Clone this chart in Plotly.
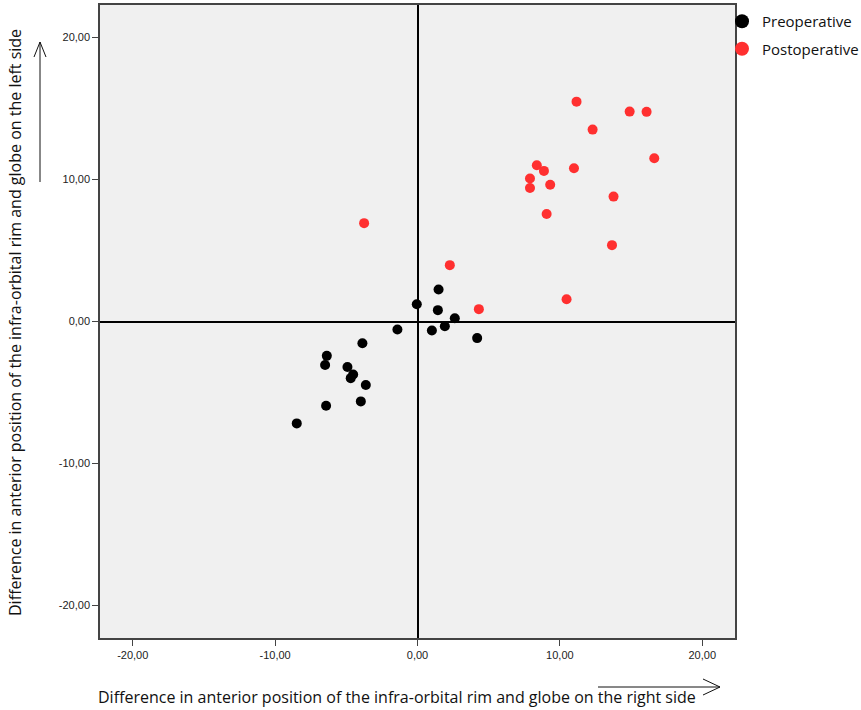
import plotly.graph_objects as go

# Data
pre_x = [1.48, -0.05, 1.43, 2.62, 1.92, 1.01, -1.41, 4.19, -3.87, -6.37, -6.49, -4.92, -4.52, -4.69, -3.63, -6.42, -3.98, -8.48]
pre_y = [2.25, 1.22, 0.80, 0.23, -0.33, -0.63, -0.56, -1.17, -1.53, -2.42, -3.07, -3.21, -3.73, -3.99, -4.48, -5.94, -5.63, -7.18]

post_x = [-3.75, 2.27, 4.31, 8.38, 7.90, 7.90, 11.17, 14.90, 16.09, 12.30, 16.63, 8.88, 9.32, 10.99, 13.77, 9.07, 13.66, 10.47]
post_y = [6.93, 3.97, 0.87, 11.01, 10.07, 9.41, 15.49, 14.79, 14.77, 13.52, 11.50, 10.61, 9.63, 10.80, 8.80, 7.58, 5.38, 1.57]

tick_vals = [-20, -10, 0, 10, 20]
tick_labels = ["-20,00", "-10,00", "0,00", "10,00", "20,00"]

series_names = ["Preoperative", "Postoperative"]
series_colors = ["#000000", "#ff3030"]

x_title = "Difference in anterior position of the infra-orbital rim and globe on the right side"
y_title = "Difference in anterior position of the infra-orbital rim and globe on the left side"

W, H = 861, 710
ML, MR, MT, MB = 100, 126, 5, 72
PW, PH = W - ML - MR, H - MT - MB
FONT = "Open Sans"

def px(x):
    return (x - ML) / PW

def py(y):
    return (H - MB - y) / PH

fig = go.Figure()
for xs, ys, name, col in [(pre_x, pre_y, series_names[0], series_colors[0]),
                          (post_x, post_y, series_names[1], series_colors[1])]:
    fig.add_trace(go.Scatter(x=xs, y=ys, mode="markers", name=name, showlegend=False,
                             marker=dict(size=10, color=col, line=dict(width=0))))
    fig.add_trace(go.Scatter(x=[None], y=[None], mode="markers", name=name, showlegend=True,
                             legendgroup=name,
                             marker=dict(size=14, color=col, line=dict(width=0))))

axis_common = dict(
    tickmode="array", tickvals=tick_vals, ticktext=tick_labels,
    ticks="outside", ticklen=6, tickcolor="#444", tickwidth=1,
    showgrid=False, zeroline=True, zerolinecolor="#000", zerolinewidth=2,
    showline=True, linecolor="#444", linewidth=1.5, mirror=True,
    tickfont=dict(family="Liberation Sans, Arial", size=11, color="#222"),
    range=[-22.3, 22.3], fixedrange=True,
)

fig.update_layout(
    width=W, height=H,
    margin=dict(l=ML, r=MR, t=MT, b=MB, autoexpand=False),
    paper_bgcolor="white", plot_bgcolor="#f0f0f0",
    xaxis=dict(**axis_common),
    yaxis=dict(**axis_common),
    legend=dict(x=px(722), y=py(5), xanchor="left", yanchor="top",
                bgcolor="rgba(0,0,0,0)", itemsizing="trace",
                font=dict(family=FONT, size=15, color="#111"),
                tracegroupgap=5),
    annotations=[
        dict(text=x_title, xref="paper", yref="paper", x=px(397), y=py(697),
             showarrow=False, font=dict(family=FONT, size=16, color="#111"),
             xanchor="center", yanchor="middle"),
        dict(text=y_title, xref="paper", yref="paper", x=px(15), y=py(323),
             showarrow=False, textangle=-90, font=dict(family=FONT, size=16, color="#111"),
             xanchor="center", yanchor="middle"),
    ],
)

line_style = dict(color="#111", width=1)
shapes = [
    # y arrow
    dict(type="line", xref="paper", yref="paper", x0=px(40), y0=py(182), x1=px(40), y1=py(42), line=line_style),
    dict(type="line", xref="paper", yref="paper", x0=px(40), y0=py(42), x1=px(34), y1=py(57), line=line_style),
    dict(type="line", xref="paper", yref="paper", x0=px(40), y0=py(42), x1=px(46), y1=py(57), line=line_style),
    # x arrow
    dict(type="line", xref="paper", yref="paper", x0=px(598), y0=py(687), x1=px(720), y1=py(687), line=line_style),
    dict(type="line", xref="paper", yref="paper", x0=px(720), y0=py(687), x1=px(703), y1=py(679), line=line_style),
    dict(type="line", xref="paper", yref="paper", x0=px(720), y0=py(687), x1=px(703), y1=py(695), line=line_style),
]
fig.update_layout(shapes=shapes)

fig.write_html("out.html", config={"displayModeBar": False},
               post_script="document.body.style.margin='0';document.body.style.overflow='hidden';")
